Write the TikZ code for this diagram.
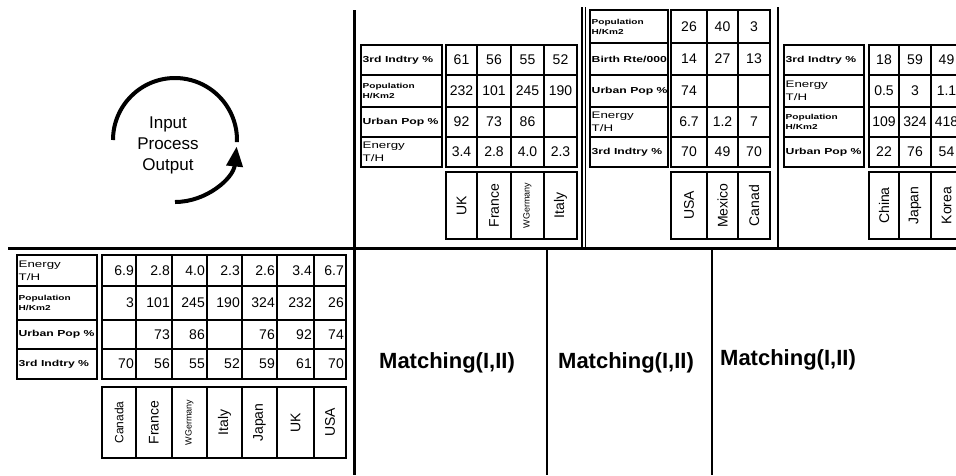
\documentclass[tikz,border=0pt]{standalone}
\usepackage{fontspec}
\setmainfont{Liberation Sans}
\newfontfamily\lblfont[FakeStretch=1.4]{Liberation Sans}
\usetikzlibrary{arrows.meta}
\tikzset{
  cellbox/.style={draw, line width=1.2pt, inner sep=0pt, outer sep=0pt},
  numtxt/.style={font=\fontsize{14}{14}\selectfont, inner sep=0pt},
  hdrtxt/.style={font=\fontsize{14}{14}\selectfont, inner sep=0pt, rotate=90},
  lblB/.style={font=\lblfont\bfseries\fontsize{8.7}{10}\selectfont, inner sep=0pt, anchor=west, align=left},
  lblE/.style={font=\lblfont\fontsize{9.5}{13}\selectfont, inner sep=0pt, anchor=west, align=left},
  lblP/.style={font=\lblfont\bfseries\fontsize{7.2}{10}\selectfont, inner sep=0pt, anchor=west, align=left},
  thickline/.style={line width=3pt},
  thinline/.style={line width=1.4pt},
  matchtxt/.style={font=\bfseries\fontsize{22}{22}\selectfont, inner sep=0pt},
  cyclearc/.style={line width=4pt}
}
\newcommand\tcell[5]{\node[cellbox, minimum width={(#4-#2)*1pt}, minimum height={(#5-#3)*1pt}] (#1) at ({(#2+#4)/2},{(#3+#5)/2}) {};}
\newcommand\lcell[7]{\tcell{#1}{#2}{#3}{#4}{#5}\node[#6] (#1t) at ([xshift=1.5pt]#1.west) {#7};}
\newcommand\drow[5]{%
  \foreach \xa/\xb/\v [count=\i] in {#4} {\tcell{#1c\i}{\xa}{#2}{\xb}{#3}
    \ifx#5R\node[numtxt, anchor=east] (#1c\i t) at ([xshift=-2pt]#1c\i.east) {\v};
    \else\node[numtxt] (#1c\i t) at (#1c\i) {\v};\fi}}
\newcommand\hrow[4]{%
  \foreach \xa/\xb/\v [count=\i] in {#4} {\tcell{#1c\i}{\xa}{#2}{\xb}{#3}
    \node[hdrtxt] (#1c\i t) at (#1c\i) {\v};}}
\begin{document}
\begin{tikzpicture}[x=1pt, y=-1pt]
\useasboundingbox (0,0) rectangle (956,475);
\fill[white] (0,0) rectangle (956,475);
\clip (0,0) rectangle (956,475);

% separators
\coordinate (vt) at (354,10); \coordinate (vb) at (354,475);
\coordinate (hl) at (8,248);  \coordinate (hr) at (956,248);
\draw[thickline] (vt) -- (vb);
\draw[thickline] (hl) -- (hr);
\coordinate (s1t) at (582,7); \coordinate (s1b) at (582,248);
\coordinate (s1u) at (585.5,7); \coordinate (s1v) at (585.5,248);
\coordinate (s2t) at (778,7); \coordinate (s2b) at (778,248);
\coordinate (s3t) at (547,248); \coordinate (s3b) at (547,475);
\coordinate (s4t) at (712,248); \coordinate (s4b) at (712,475);
\draw[thinline] (s1t) -- (s1b);
\draw[thinline] (s1u) -- (s1v);
\draw[thinline] (s2t) -- (s2b);
\draw[thinline] (s3t) -- (s3b);
\draw[thinline] (s4t) -- (s4b);

% cycle
\coordinate (arcA) at (113,140);
\coordinate (arcB) at (175,202);
\draw[cyclearc] (arcA) arc[start angle=-180, end angle=2, radius=62];
\draw[cyclearc, -{Triangle[length=20pt, width=16pt]}] (arcB) arc[start angle=90, end angle=6, radius=62];
\node[align=center, font=\fontsize{17}{21}\selectfont, inner sep=0pt] (ipo) at (168,145) {Input\\Process\\Output};

% table A
\lcell{tAl1}{361}{45}{442}{75}{lblB}{3rd Indtry \%}
\lcell{tAl2}{361}{75}{442}{107}{lblP}{Population\\H/Km2}
\lcell{tAl3}{361}{107}{442}{137}{lblB}{Urban Pop \%}
\lcell{tAl4}{361}{137}{442}{167}{lblE}{Energy\\T/H}
\drow{tAr1}{45}{75}{446/477/61, 477/511/56, 511/544/55, 544/577/52}{C}
\drow{tAr2}{75}{107}{446/477/232, 477/511/101, 511/544/245, 544/577/190}{C}
\drow{tAr3}{107}{137}{446/477/92, 477/511/73, 511/544/86, 544/577/{}}{C}
\drow{tAr4}{137}{167}{446/477/3.4, 477/511/2.8, 511/544/4.0, 544/577/2.3}{C}
\hrow{tAh}{172}{239}{446/477/UK, 477/511/France, 511/544/{\fontsize{9}{9}\selectfont WGermany}, 544/577/Italy}

% table B
\lcell{tBl1}{590}{10}{668}{43}{lblP}{Population\\H/Km2}
\lcell{tBl2}{590}{43}{668}{75}{lblB}{Birth Rte/000}
\lcell{tBl3}{590}{75}{668}{107}{lblB}{Urban Pop \%}
\lcell{tBl4}{590}{107}{668}{137}{lblE}{Energy\\T/H}
\lcell{tBl5}{590}{137}{668}{167}{lblB}{3rd Indtry \%}
\drow{tBr1}{10}{43}{671/707/26, 707/738/40, 738/770/3}{C}
\drow{tBr2}{43}{75}{671/707/14, 707/738/27, 738/770/13}{C}
\drow{tBr3}{75}{107}{671/707/74, 707/738/{}, 738/770/{}}{C}
\drow{tBr4}{107}{137}{671/707/6.7, 707/738/1.2, 738/770/7}{C}
\drow{tBr5}{137}{167}{671/707/70, 707/738/49, 738/770/70}{C}
\hrow{tBh}{172}{239}{671/707/USA, 707/738/Mexico, 738/770/Canad}

% table C
\lcell{tCl1}{784}{45}{864}{75}{lblB}{3rd Indtry \%}
\lcell{tCl2}{784}{75}{864}{107}{lblE}{Energy\\T/H}
\lcell{tCl3}{784}{107}{864}{137}{lblP}{Population\\H/Km2}
\lcell{tCl4}{784}{137}{864}{167}{lblB}{Urban Pop \%}
\drow{tCr1}{45}{75}{869/899/18, 899/931/59, 931/962/49}{C}
\drow{tCr2}{75}{107}{869/899/0.5, 899/931/3, 931/962/1.1}{C}
\drow{tCr3}{107}{137}{869/899/109, 899/931/324, 931/962/418}{C}
\drow{tCr4}{137}{167}{869/899/22, 899/931/76, 931/962/54}{C}
\hrow{tCh}{172}{239}{869/899/China, 899/931/Japan, 931/962/Korea}

% table D (bottom left)
\lcell{tDl1}{17}{255}{97}{286}{lblE}{Energy\\T/H}
\lcell{tDl2}{17}{286}{97}{320}{lblP}{Population\\H/Km2}
\lcell{tDl3}{17}{320}{97}{349}{lblB}{Urban Pop \%}
\lcell{tDl4}{17}{349}{97}{379}{lblB}{3rd Indtry \%}
\drow{tDr1}{255}{286}{102/136/6.9, 136/172/2.8, 172/207/4.0, 207/242/2.3, 242/277/2.6, 277/314/3.4, 314/346/6.7}{R}
\drow{tDr2}{286}{320}{102/136/3, 136/172/101, 172/207/245, 207/242/190, 242/277/324, 277/314/232, 314/346/26}{R}
\drow{tDr3}{320}{349}{102/136/{}, 136/172/73, 172/207/86, 207/242/{}, 242/277/76, 277/314/92, 314/346/74}{R}
\drow{tDr4}{349}{379}{102/136/70, 136/172/56, 172/207/55, 207/242/52, 242/277/59, 277/314/61, 314/346/70}{R}
\hrow{tDh}{387}{458}{102/136/{\fontsize{12}{12}\selectfont Canada}, 136/172/France, 172/207/{\fontsize{9}{9}\selectfont WGermany}, 207/242/Italy, 242/277/Japan, 277/314/UK, 314/346/USA}

% matching labels
\node[matchtxt] (m1) at (447,363) {Matching(I,II)};
\node[matchtxt] (m2) at (626,363) {Matching(I,II)};
\node[matchtxt] (m3) at (788,360) {Matching(I,II)};
\end{tikzpicture}
\end{document}
